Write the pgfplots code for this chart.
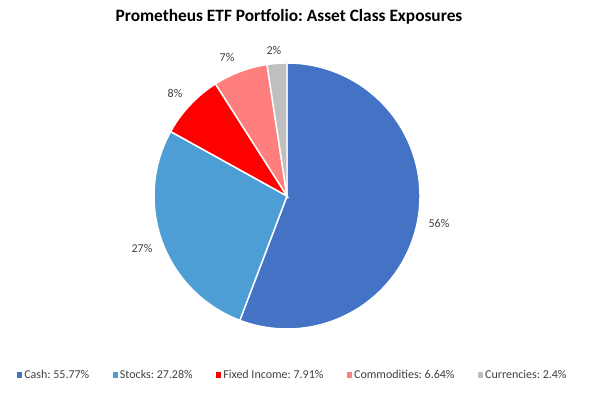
\documentclass[border=0pt]{standalone}
\usepackage{pgfplots}
\pgfplotsset{compat=1.18}
\usepackage{fontspec}
\setmainfont{Carlito}
\frenchspacing
\definecolor{cCash}{HTML}{4472C4}
\definecolor{cStocks}{HTML}{4E9ED6}
\definecolor{cFixed}{HTML}{FF0000}
\definecolor{cComm}{HTML}{FF7F7F}
\definecolor{cCurr}{HTML}{BFBFBF}
\definecolor{txt}{HTML}{404040}
\begin{document}
\frenchspacing
\begin{tikzpicture}
\begin{axis}[
  scale only axis, width=448.5pt, height=296.25pt,
  xmin=-2.1579, xmax=2.3383, ymin=-1.4962, ymax=1.4737,
  hide axis, clip=false,
  legend columns=5,
  legend style={at={(rel axis cs:0.0284,0.0506)}, anchor=west, draw=none, fill=none,
    inner sep=0pt, outer sep=0pt,
    font=\frenchspacing\fontsize{9}{11}\selectfont, text=txt,
    nodes={inner sep=1.5pt},
    /tikz/every even column/.append style={column sep=16pt}},
  legend image code/.code={\fill[#1,draw=none] (0pt,-2pt) rectangle (4pt,2pt);},
]
\addplot[fill=cCash, draw=white, line width=1.1pt, domain=0:55.77, samples=120, variable=\p]
  ({cos(90-3.6*\p)}, {sin(90-3.6*\p)}) -- (axis cs:0,0) -- cycle;
\addlegendentry{Cash: 55.77\%}
\addplot[fill=cStocks, draw=white, line width=1.1pt, domain=55.77:83.05, samples=60, variable=\p]
  ({cos(90-3.6*\p)}, {sin(90-3.6*\p)}) -- (axis cs:0,0) -- cycle;
\addlegendentry{Stocks: 27.28\%}
\addplot[fill=cFixed, draw=white, line width=1.1pt, domain=83.05:90.96, samples=25, variable=\p]
  ({cos(90-3.6*\p)}, {sin(90-3.6*\p)}) -- (axis cs:0,0) -- cycle;
\addlegendentry{Fixed Income: 7.91\%}
\addplot[fill=cComm, draw=white, line width=1.1pt, domain=90.96:97.60, samples=25, variable=\p]
  ({cos(90-3.6*\p)}, {sin(90-3.6*\p)}) -- (axis cs:0,0) -- cycle;
\addlegendentry{Commodities: 6.64\%}
\addplot[fill=cCurr, draw=white, line width=1.1pt, domain=97.60:100, samples=12, variable=\p]
  ({cos(90-3.6*\p)}, {sin(90-3.6*\p)}) -- (axis cs:0,0) -- cycle;
\addlegendentry{Currencies: 2.4\%}
\begin{scope}[every node/.style={font=\fontsize{9}{11}\selectfont, text=txt}]
\node at (axis cs:1.143,-0.203) {56\%};
\node at (axis cs:-1.090,-0.391) {27\%};
\node at (axis cs:-0.842,0.774) {8\%};
\node at (axis cs:-0.451,1.038) {7\%};
\node at (axis cs:-0.098,1.098) {2\%};
\end{scope}
\node[font=\frenchspacing\bfseries\fontsize{13}{16}\selectfont, text=black] at (axis cs:0.015,1.346) {Prometheus ETF Portfolio: Asset Class Exposures};
\end{axis}
\pgfresetboundingbox
\path (current axis.south west) rectangle (current axis.north east);
\end{tikzpicture}
\end{document}
